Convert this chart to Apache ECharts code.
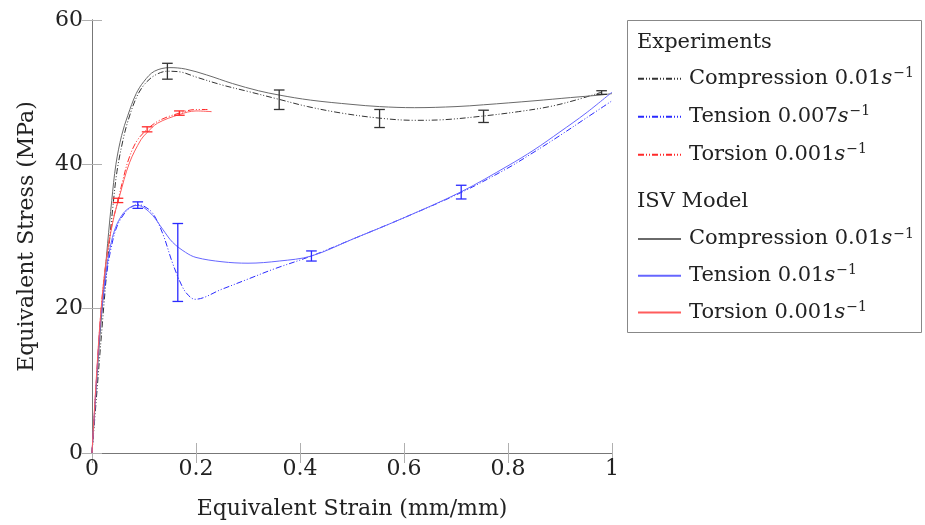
<!DOCTYPE html>
<html>
<head>
<meta charset="utf-8">
<title>Equivalent stress vs strain</title>
<script src="https://cdn.jsdelivr.net/npm/echarts@6/dist/echarts.min.js"></script>
<style>
  html, body { margin: 0; padding: 0; background: #fff; }
  #chart { width: 925px; height: 525px; }
</style>
</head>
<body>
<div id="chart"></div>
<script>
// curves: [strain, stress]
var compressionExp = [
  [0, 0], [0.01, 9], [0.02, 18], [0.03, 26.5], [0.04, 34], [0.048, 39], [0.06, 43.5],
  [0.07, 46.2], [0.085, 49.2], [0.1, 51], [0.12, 52.3], [0.145, 52.9], [0.17, 52.8],
  [0.2, 52.1], [0.25, 51], [0.3, 50.1], [0.36, 49], [0.415, 48], [0.48, 47.1], [0.553, 46.4],
  [0.62, 46.1], [0.68, 46.2], [0.753, 46.7], [0.82, 47.3], [0.88, 48], [0.93, 48.9], [0.98, 50]
];
var tensionExp = [
  [0, 0], [0.008, 9], [0.016, 17.5], [0.022, 21.5], [0.028, 24.8], [0.035, 27.8], [0.045, 30.8],
  [0.055, 32.4], [0.07, 33.8], [0.088, 34.4], [0.1, 34.2], [0.117, 33.2], [0.136, 30.4],
  [0.155, 26.3], [0.174, 23], [0.186, 21.8], [0.198, 21.3], [0.25, 22.7], [0.3, 24.1],
  [0.35, 25.5], [0.422, 27.3], [0.5, 29.6], [0.6, 32.6], [0.71, 36.1], [0.8, 39.5],
  [0.85, 41.7], [0.9, 44], [0.95, 46.4], [1, 48.8]
];
var torsionExp = [
  [0, 0], [0.008, 9.5], [0.017, 19.5], [0.027, 26.5], [0.038, 31.5], [0.05, 35], [0.06, 38],
  [0.07, 40.6], [0.085, 43.1], [0.106, 44.85], [0.13, 46.1], [0.168, 47.1], [0.2, 47.6], [0.222, 47.6]
];
var compressionModel = [
  [0, 0], [0.01, 11], [0.02, 20.5], [0.03, 29], [0.038, 35], [0.046, 40], [0.057, 44],
  [0.069, 46.8], [0.085, 49.8], [0.1, 51.5], [0.12, 52.9], [0.15, 53.4], [0.18, 53.2],
  [0.22, 52.4], [0.27, 51.2], [0.32, 50.2], [0.36, 49.6], [0.42, 48.9], [0.5, 48.3],
  [0.553, 48], [0.62, 47.85], [0.7, 48], [0.753, 48.25], [0.85, 48.8], [0.92, 49.25],
  [0.977, 49.6], [1, 49.8]
];
var tensionModel = [
  [0, 0], [0.008, 9.5], [0.016, 18], [0.022, 22], [0.028, 25.5], [0.035, 28.5], [0.045, 31.2],
  [0.06, 33.2], [0.075, 34.1], [0.088, 34.3], [0.1, 34], [0.117, 32.9], [0.136, 31],
  [0.155, 29.2], [0.18, 27.8], [0.2, 27.1], [0.25, 26.5], [0.3, 26.3], [0.36, 26.6],
  [0.422, 27.3], [0.5, 29.6], [0.6, 32.6], [0.71, 36.2], [0.8, 39.8], [0.85, 42],
  [0.9, 44.5], [0.95, 47.1], [1, 50]
];
var torsionModel = [
  [0, 0], [0.008, 10], [0.017, 19.5], [0.027, 26.5], [0.04, 32], [0.053, 35.6], [0.072, 40.2],
  [0.094, 43.4], [0.106, 44.4], [0.126, 45.7], [0.168, 46.9], [0.2, 47.4], [0.23, 47.3]
];

// error bars: [strain, low, high]
var compressionErr = [[0.145, 51.8, 54.0], [0.36, 47.6, 50.3], [0.553, 45.1, 47.6], [0.753, 45.8, 47.5], [0.98, 49.7, 50.2]];
var tensionErr = [[0.088, 33.9, 34.8], [0.165, 21.0, 31.8], [0.422, 26.6, 28.0], [0.71, 35.2, 37.1]];
var torsionErr = [[0.05, 34.7, 35.3], [0.106, 44.5, 45.2], [0.168, 46.8, 47.4]];

var expNames = ['Compression 0.01', 'Tension 0.007', 'Torsion 0.001'];
var modelNames = ['Compression 0.01 ', 'Tension 0.01', 'Torsion 0.001 '];

var FONT = 'DejaVu Serif';
var dashDot = [6, 2, 1, 2, 1, 2];

var chart = echarts.init(document.getElementById('chart'), null, { renderer: 'canvas' });

function lineSeries(name, data, color, type) {
  return {
    name: name,
    type: 'line',
    data: data,
    symbol: 'none',
    showSymbol: false,
    smooth: 0.35,
    lineStyle: { color: color, width: 1, type: type },
    itemStyle: { color: color },
    z: 3
  };
}

function errSeries(data, color) {
  return {
    type: 'custom',
    data: data,
    encode: { x: 0, y: [1, 2] },
    z: 4,
    renderItem: function (params, api) {
      var top = api.coord([api.value(0), api.value(2)]);
      var bot = api.coord([api.value(0), api.value(1)]);
      var w = 5.3;
      var st = { stroke: color, lineWidth: 1.3 };
      return {
        type: 'group',
        children: [
          { type: 'line', shape: { x1: top[0], y1: top[1], x2: bot[0], y2: bot[1] }, style: st },
          { type: 'line', shape: { x1: top[0] - w, y1: top[1], x2: top[0] + w, y2: top[1] }, style: st },
          { type: 'line', shape: { x1: bot[0] - w, y1: bot[1], x2: bot[0] + w, y2: bot[1] }, style: st }
        ]
      };
    }
  };
}

var legendRich = {
  it: { fontFamily: FONT, fontSize: 21, fontStyle: 'italic', color: '#222', lineHeight: 24 },
  sup: { fontFamily: FONT, fontSize: 14, color: '#222', verticalAlign: 'top', lineHeight: 24, padding: [0, 0, 0, 1] }
};
function legendFmt(name) {
  return name.trim() + '{it|s}{sup|\u22121}';
}
function legendBlock(names, top, gap) {
  return {
    data: names, orient: 'vertical', left: 637, top: top, padding: 0,
    itemWidth: 43, itemHeight: 14, itemGap: gap,
    itemStyle: { opacity: 0 },
    textStyle: { fontFamily: FONT, fontSize: 21, color: '#222', lineHeight: 24, padding: [0, 0, 0, 3], rich: legendRich },
    formatter: legendFmt, selectedMode: false
  };
}

var frameAxis = {
  axisLine: { show: true, lineStyle: { color: '#777', width: 1 } },
  axisTick: { show: true, inside: true, length: 10, lineStyle: { color: '#b0b0b0' } },
  splitLine: { show: false }
};

var option = {
  animation: false,
  backgroundColor: '#fff',
  textStyle: { fontFamily: FONT },
  grid: { left: 92, top: 20, right: 313, bottom: 72, show: false },
  xAxis: [Object.assign({
    type: 'value', min: 0, max: 1, interval: 0.2,
    name: 'Equivalent Strain (mm/mm)', nameLocation: 'middle', nameGap: 45,
    nameTextStyle: { fontFamily: FONT, fontSize: 22, color: '#222' },
    axisLabel: { fontFamily: FONT, fontSize: 22, color: '#222', margin: 5 }
  }, frameAxis), Object.assign({
    type: 'value', min: 0, max: 1, interval: 0.2, position: 'top',
    axisLabel: { show: false }
  }, frameAxis)],
  yAxis: [Object.assign({
    type: 'value', min: 0, max: 60, interval: 20,
    name: 'Equivalent Stress (MPa)', nameLocation: 'middle', nameGap: 54,
    nameTextStyle: { fontFamily: FONT, fontSize: 22, color: '#222' },
    axisLabel: { fontFamily: FONT, fontSize: 22, color: '#222', margin: 9 }
  }, frameAxis), Object.assign({
    type: 'value', min: 0, max: 60, interval: 20, position: 'right',
    axisLabel: { show: false }
  }, frameAxis)],
  legend: [legendBlock(expNames, 66.7, 14), legendBlock(modelNames, 227, 12.7)],
  graphic: [
    { type: 'rect', shape: { x: 627.5, y: 20.5, width: 294, height: 312 }, style: { fill: null, stroke: '#888', lineWidth: 1 } },
    { type: 'text', left: 637, top: 32, style: { text: 'Experiments', font: '21px "' + FONT + '"', fill: '#222' } },
    { type: 'text', left: 637, top: 191, style: { text: 'ISV Model', font: '21px "' + FONT + '"', fill: '#222' } }
  ],
  series: [
    lineSeries(expNames[0], compressionExp, '#333333', dashDot),
    lineSeries(expNames[1], tensionExp, '#2a2aff', dashDot),
    lineSeries(expNames[2], torsionExp, '#ff2a2a', dashDot),
    lineSeries(modelNames[0], compressionModel, '#6a6a6a', 'solid'),
    lineSeries(modelNames[1], tensionModel, '#6666ff', 'solid'),
    lineSeries(modelNames[2], torsionModel, '#ff5c5c', 'solid'),
    errSeries(compressionErr, '#333333'),
    errSeries(tensionErr, '#2a2aff'),
    errSeries(torsionErr, '#ff2a2a')
  ]
};

chart.setOption(option);
</script>
</body>
</html>
